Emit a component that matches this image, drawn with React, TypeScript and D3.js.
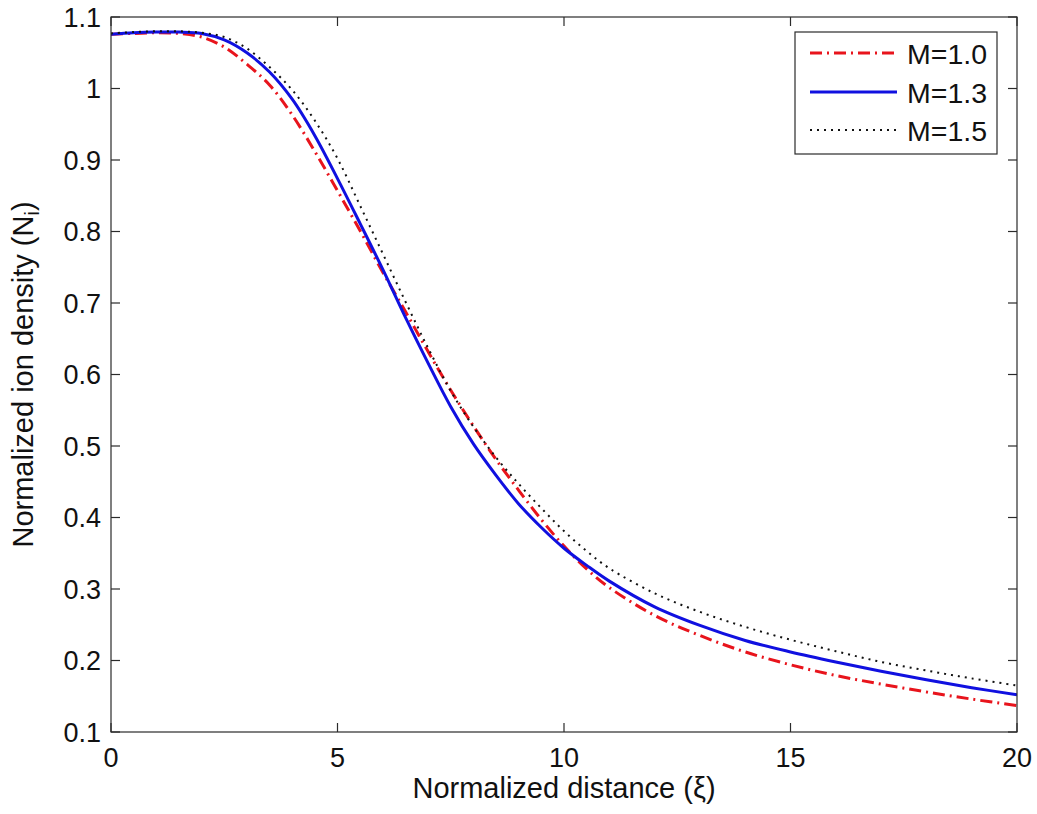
import React from 'react';
import * as d3 from 'd3';

const xs = [0, 0.5, 1, 1.5, 2, 2.5, 3, 3.5, 4, 4.5, 5, 5.5, 6, 6.5, 7, 7.5, 8, 8.5, 9, 9.5, 10, 10.5, 11, 12, 13, 14, 15, 16, 17, 18, 19, 20];
const m10 = [1.076, 1.077, 1.078, 1.077, 1.072, 1.058, 1.034, 1.005, 0.963, 0.912, 0.857, 0.801, 0.743, 0.688, 0.632, 0.578, 0.528, 0.481, 0.438, 0.397, 0.360, 0.328, 0.302, 0.263, 0.235, 0.212, 0.194, 0.179, 0.167, 0.156, 0.146, 0.137];
const m13 = [1.076, 1.078, 1.079, 1.079, 1.077, 1.068, 1.050, 1.023, 0.985, 0.934, 0.874, 0.811, 0.747, 0.680, 0.616, 0.555, 0.503, 0.459, 0.419, 0.386, 0.357, 0.333, 0.311, 0.275, 0.249, 0.228, 0.212, 0.198, 0.185, 0.173, 0.162, 0.152];
const m15 = [1.077, 1.079, 1.080, 1.080, 1.078, 1.072, 1.056, 1.030, 0.998, 0.955, 0.902, 0.836, 0.769, 0.702, 0.637, 0.577, 0.527, 0.484, 0.447, 0.413, 0.381, 0.353, 0.329, 0.294, 0.268, 0.247, 0.229, 0.213, 0.198, 0.186, 0.175, 0.165];

const seriesNames = ['M=1.0', 'M=1.3', 'M=1.5'];
const xTicks = [0, 5, 10, 15, 20];
const yTicks = [0.1, 0.2, 0.3, 0.4, 0.5, 0.6, 0.7, 0.8, 0.9, 1.0, 1.1];
const yTickLabels = ['0.1', '0.2', '0.3', '0.4', '0.5', '0.6', '0.7', '0.8', '0.9', '1', '1.1'];

const W = 1037;
const H = 814;
const L = 111, R = 1017, T = 17, B = 732;
const FONT = 'Liberation Sans, Arial, Helvetica, sans-serif';
const AX = '#2b2b2b';
const TICK = 9;

export default function App() {
  const x = d3.scaleLinear().domain([0, 20]).range([L, R]);
  const y = d3.scaleLinear().domain([0.1, 1.1]).range([B, T]);
  const line = d3.line<[number, number]>()
    .x(d => x(d[0]))
    .y(d => y(d[1]))
    .curve(d3.curveCatmullRom.alpha(0.5));

  const series = [
    { name: seriesNames[0], vals: m10, color: '#e8141c', width: 3, dash: '12,5,2,5' },
    { name: seriesNames[1], vals: m13, color: '#1010e0', width: 3, dash: undefined as string | undefined },
    { name: seriesNames[2], vals: m15, color: '#111', width: 2, dash: '2,5' },
  ];

  const legendYs = [53, 92, 130];

  return (
    <svg width={W} height={H} style={{ position: 'absolute', left: 0, top: 0, background: '#fff' }} fontFamily={FONT}>
      <rect x={0} y={0} width={W} height={H} fill="#fff" />
      <defs>
        <clipPath id="plotclip">
          <rect x={L} y={T} width={R - L} height={B - T} />
        </clipPath>
      </defs>
      <g clipPath="url(#plotclip)">
        {series.map(s => (
          <path
            key={s.name}
            d={line(xs.map((v, i) => [v, s.vals[i]] as [number, number])) || ''}
            fill="none"
            stroke={s.color}
            strokeWidth={s.width}
            strokeDasharray={s.dash}
          />
        ))}
      </g>
      <rect x={L} y={T} width={R - L} height={B - T} fill="none" stroke={AX} strokeWidth={1.2} />
      {xTicks.map(t => (
        <g key={'x' + t}>
          <line x1={x(t)} x2={x(t)} y1={B} y2={B - TICK} stroke={AX} strokeWidth={1.2} />
          <line x1={x(t)} x2={x(t)} y1={T} y2={T + TICK} stroke={AX} strokeWidth={1.2} />
          <text x={x(t)} y={767} textAnchor="middle" fontSize={27} fill="#111">{t}</text>
        </g>
      ))}
      {yTicks.map((t, i) => (
        <g key={'y' + t}>
          <line x1={L} x2={L + TICK} y1={y(t)} y2={y(t)} stroke={AX} strokeWidth={1.2} />
          <line x1={R} x2={R - TICK} y1={y(t)} y2={y(t)} stroke={AX} strokeWidth={1.2} />
          <text x={101} y={y(t)} dy="0.36em" textAnchor="end" fontSize={27} fill="#111">{yTickLabels[i]}</text>
        </g>
      ))}
      <text x={(L + R) / 2} y={798} textAnchor="middle" fontSize={29} fill="#111">Normalized distance (ξ)</text>
      <text transform={`translate(33, ${(T + B) / 2}) rotate(-90)`} textAnchor="middle" fontSize={29} fill="#111">
        Normalized ion density (N<tspan fontSize={20} dy={6}>i</tspan><tspan dy={-6}>)</tspan>
      </text>
      <rect x={795} y={32} width={202} height={122} fill="#fff" stroke={AX} strokeWidth={1.2} />
      {series.map((s, i) => (
        <g key={'lg' + s.name}>
          <line x1={810} x2={897} y1={legendYs[i]} y2={legendYs[i]} stroke={s.color} strokeWidth={s.width} strokeDasharray={s.dash} />
          <text x={907} y={legendYs[i] + 1} dy="0.36em" fontSize={28.5} fill="#111">{s.name}</text>
        </g>
      ))}
    </svg>
  );
}
